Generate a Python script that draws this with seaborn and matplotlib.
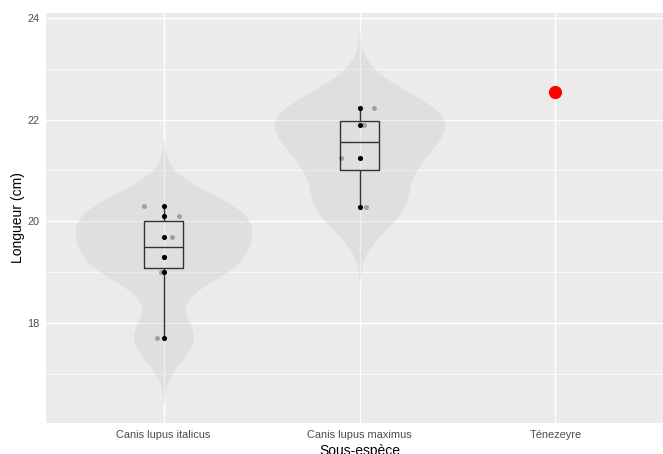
import numpy as np
import pandas as pd
import matplotlib
matplotlib.use("Agg")
import matplotlib.pyplot as plt
from matplotlib.ticker import MultipleLocator
import seaborn as sns

# ---- data ----
categories = ["Canis lupus italicus", "Canis lupus maximus", "Ténezeyre"]
italicus = [17.7, 19.0, 19.3, 19.7, 20.1, 20.3]
maximus = [20.28, 21.24, 21.9, 22.23]
tenezeyre = [22.54]
# horizontal jitter of the grey duplicate points (category units)
jitter_italicus = [-0.034, -0.015, 0.002, 0.042, 0.078, -0.098]
jitter_maximus = [0.032, -0.095, 0.024, 0.075]

df = pd.DataFrame({
    "espece": [categories[0]] * len(italicus) + [categories[1]] * len(maximus),
    "longueur": italicus + maximus,
})
df_ten = pd.DataFrame({"espece": [categories[2]] * len(tenezeyre), "longueur": tenezeyre})

sns.set_theme(style="darkgrid")
plt.rcParams["font.family"] = ["Liberation Sans", "DejaVu Sans"]

fig = plt.figure(figsize=(6.63, 4.54), dpi=100)
ax = fig.add_axes([46 / 663, 31 / 454, 627 / 663, 410 / 454])
ax.set_facecolor("#EBEBEB")


def nrd0(x):
    x = np.asarray(x, float)
    sd = x.std(ddof=1)
    iqr = np.subtract(*np.percentile(x, [75, 25]))
    lo = min(sd, iqr / 1.34)
    return 0.9 * lo * len(x) ** -0.2, sd


widths = {categories[0]: 0.90, categories[1]: 0.87}
for cat, vals in [(categories[0], italicus), (categories[1], maximus)]:
    bw, sd = nrd0(vals)
    sub = df[df["espece"] == cat]
    sns.violinplot(data=sub, x="espece", y="longueur", order=categories,
                   bw_method=bw / sd, cut=3, width=widths[cat], inner=None,
                   color="#BEBEBE", alpha=0.25, linewidth=0, ax=ax,
                   density_norm="area")

sns.boxplot(data=df, x="espece", y="longueur", order=categories, width=0.2,
            fill=False, color="#333333", linewidth=1.0, showfliers=False,
            capprops={"visible": False}, ax=ax)

# grey jittered duplicates
pos = {c: i for i, c in enumerate(categories)}
ax.scatter([pos[categories[0]] + j for j in jitter_italicus], italicus,
           s=13, color="black", alpha=0.28, linewidths=0, zorder=4)
ax.scatter([pos[categories[1]] + j for j in jitter_maximus], maximus,
           s=13, color="black", alpha=0.28, linewidths=0, zorder=4)

sns.stripplot(data=df, x="espece", y="longueur", order=categories, jitter=False,
              color="black", size=3.7, linewidth=0, ax=ax, zorder=5)
sns.stripplot(data=df_ten, x="espece", y="longueur", order=categories, jitter=False,
              color="#FF0000", size=9.5, linewidth=0, ax=ax, zorder=5)

ax.set_xlim(-0.6, 2.6)
ax.set_ylim(16.03, 24.1)
ax.yaxis.set_major_locator(MultipleLocator(2))
ax.yaxis.set_minor_locator(MultipleLocator(1))
ax.grid(which="major", color="white", linewidth=1.0)
ax.grid(which="minor", axis="y", color="white", linewidth=0.5)
ax.set_axisbelow(True)
for s in ax.spines.values():
    s.set_visible(False)

ax.tick_params(axis="both", which="major", length=2.4, width=0.8, color="#333333",
               labelsize=7.9, labelcolor="#4D4D4D", pad=2.5)
ax.tick_params(axis="both", which="minor", length=0)
ax.set_xlabel("Sous-espèce", fontsize=10, color="black", labelpad=3)
ax.set_ylabel("Longueur (cm)", fontsize=10, color="black", labelpad=1.5)

fig.savefig("out.png", dpi=100, facecolor="white")
